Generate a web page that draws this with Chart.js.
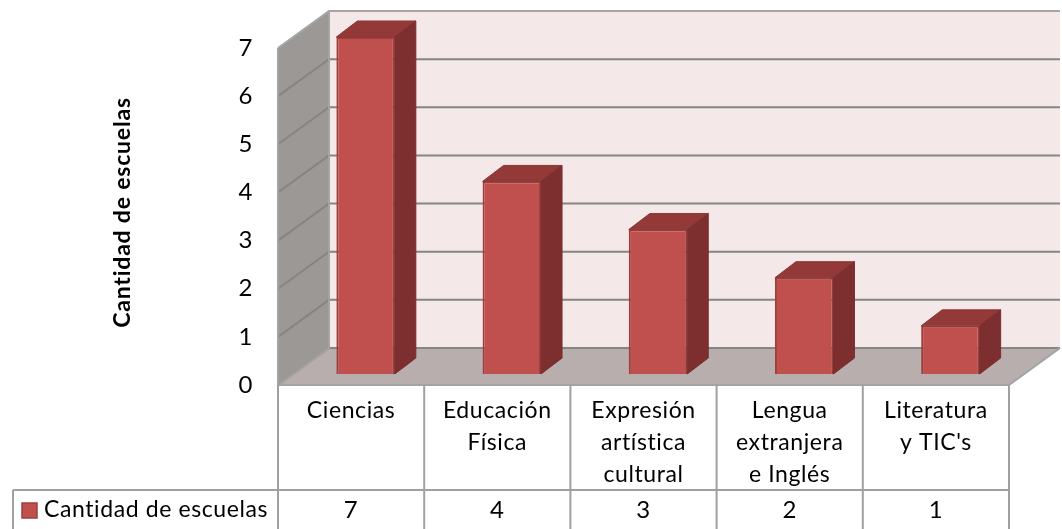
<!DOCTYPE html>
<html>
<head>
<meta charset="utf-8">
<script src="https://cdn.jsdelivr.net/npm/chart.js@4"></script>
<style>
  html, body { margin: 0; padding: 0; background: #fff; }
  #wrap { width: 1062px; height: 529px; overflow: hidden; }
</style>
</head>
<body>
<div id="wrap"><canvas id="chart" width="1062" height="529"></canvas></div>
<script>
const seriesName = 'Cantidad de escuelas';
const categories = [
    ['Ciencias'],
    ['Educación', 'Física'],
    ['Expresión', 'artística', 'cultural'],
    ['Lengua', 'extranjera', 'e Inglés'],
    ['Literatura', "y TIC's"]
];
const values = [7, 4, 3, 2, 1];

const FONT = 'Lato';
const wallDepth = { x: 51, y: -37 };   // back wall offset from front plane
const barShift = { x: 14.5, y: -11 };  // bars stand inside the floor
const barDepth = { x: 21, y: -16 };

function poly(ctx, pts, fill, stroke, lw) {
    ctx.beginPath();
    pts.forEach((p, i) => i ? ctx.lineTo(p[0], p[1]) : ctx.moveTo(p[0], p[1]));
    ctx.closePath();
    if (fill) { ctx.fillStyle = fill; ctx.fill(); }
    if (stroke) { ctx.strokeStyle = stroke; ctx.lineWidth = lw || 1; ctx.stroke(); }
}

// ─── Walls, floor and grid ────────────────────────────
const wallsPlugin = {
    id: 'walls',
    beforeDraw(chart) {
        // the reference text runs wider than Lato, so open it up a little
        chart.ctx.letterSpacing = '0.6px';
    },
    beforeDatasetsDraw(chart) {
        const { ctx, chartArea: a, scales: { y } } = chart;
        const dx = wallDepth.x, dy = wallDepth.y;
        ctx.save();
        poly(ctx, [[a.left + dx, a.top + dy], [a.right + dx, a.top + dy], [a.right + dx, a.bottom + dy], [a.left + dx, a.bottom + dy]], '#f4e8e8');
        poly(ctx, [[a.left, a.top], [a.left + dx, a.top + dy], [a.left + dx, a.bottom + dy], [a.left, a.bottom]], '#9c9896');
        poly(ctx, [[a.left, a.bottom], [a.left + dx, a.bottom + dy], [a.right + dx, a.bottom + dy], [a.right, a.bottom]], '#b8aeae');

        y.ticks.forEach(t => {
            const py = y.getPixelForValue(t.value);
            ctx.beginPath();
            ctx.moveTo(a.left, py);
            ctx.lineTo(a.left + dx, py + dy);
            ctx.lineTo(a.right + dx, py + dy);
            ctx.strokeStyle = t.value === 7 ? '#a6a6a6' : '#858585';
            ctx.lineWidth = 2;
            ctx.stroke();
        });
        // wall edges
        ctx.strokeStyle = '#a3a3a3';
        ctx.lineWidth = 2;
        ctx.beginPath();
        ctx.moveTo(a.left, a.bottom);
        ctx.lineTo(a.left, a.top);
        ctx.moveTo(a.left + dx, a.top + dy);
        ctx.lineTo(a.left + dx, a.bottom + dy);
        ctx.lineTo(a.left, a.bottom);
        ctx.moveTo(a.left, a.bottom);
        ctx.lineTo(a.right, a.bottom);
        ctx.lineTo(a.right + dx, a.bottom + dy);
        ctx.stroke();
        ctx.restore();

        // bars are drawn shifted back from the front plane
        ctx.save();
        ctx.translate(barShift.x, barShift.y);
    },
    afterDatasetsDraw(chart) {
        const { ctx } = chart;
        const dx = barDepth.x, dy = barDepth.y;
        chart.getDatasetMeta(0).data.forEach(bar => {
            const { x, y, base, width } = bar.getProps(['x', 'y', 'base', 'width'], true);
            const l = x - width / 2, r = x + width / 2;
            poly(ctx, [[l, y], [l + dx, y + dy], [r + dx, y + dy], [r, y]], '#933938', '#8a3634', 1);
            poly(ctx, [[r, y], [r + dx, y + dy], [r + dx, base + dy], [r, base]], '#7c2f2e', '#7a2e2d', 1);
        });
        ctx.restore();
    }
};

// ─── Data table under the axis ────────────────────────
const dataTablePlugin = {
    id: 'dataTable',
    afterDraw(chart) {
        const { ctx, chartArea: a, scales: { x } } = chart;
        const colW = (a.right - a.left) / categories.length;
        const rowY = 490, keyLeft = 13;
        ctx.save();
        ctx.strokeStyle = '#a0a0a0';
        ctx.lineWidth = 2;
        ctx.beginPath();
        for (let i = 0; i <= categories.length; i++) {
            const px = a.left + colW * i;
            ctx.moveTo(px, a.bottom);
            ctx.lineTo(px, 529);
        }
        ctx.moveTo(keyLeft, rowY);
        ctx.lineTo(a.right, rowY);
        ctx.moveTo(keyLeft, rowY);
        ctx.lineTo(keyLeft, 529);
        ctx.stroke();

        poly(ctx, [[22, 503], [37, 503], [37, 518], [22, 518]], '#c0504d', '#9c3f3c', 1.5);

        ctx.fillStyle = '#000';
        ctx.font = '23px ' + FONT;
        ctx.textBaseline = 'middle';
        ctx.textAlign = 'left';
        ctx.fillText(seriesName, 44, 510);
        ctx.textAlign = 'center';
        ctx.font = '24px ' + FONT;
        values.forEach((v, i) => ctx.fillText(String(v), x.getPixelForTick(i), 510));

        // axis title, sits a bit above the plot centre
        ctx.translate(123, 212.5);
        ctx.rotate(-Math.PI / 2);
        ctx.letterSpacing = '0.8px';
        ctx.font = 'bold 23px ' + FONT;
        ctx.fillText(seriesName, 0, 0);
        ctx.restore();
        ctx.letterSpacing = '0px';
    }
};

new Chart(document.getElementById('chart'), {
    type: 'bar',
    data: {
        labels: categories,
        datasets: [{
            label: seriesName,
            data: values,
            backgroundColor: '#c0504d',
            borderColor: '#9e3e3c',
            borderWidth: 2,
            categoryPercentage: 1,
            barPercentage: 0.4,
            clip: false
        }]
    },
    options: {
        responsive: false,
        animation: false,
        layout: { padding: { top: 48, right: 53, left: 0, bottom: 0 } },
        plugins: { legend: { display: false }, tooltip: { enabled: false } },
        scales: {
            x: {
                grid: { display: false, drawTicks: false },
                border: { display: false },
                afterFit(scale) { scale.height = 144; },
                ticks: {
                    autoSkip: false,
                    maxRotation: 0,
                    padding: 10,
                    color: '#000',
                    font: { family: FONT, size: 23, lineHeight: 1.39 }
                }
            },
            y: {
                min: 0,
                max: 7,
                grid: { display: false, drawTicks: false },
                border: { display: false },
                afterFit(scale) { scale.width = 278; },
                ticks: {
                    stepSize: 1,
                    padding: 25,
                    color: '#000',
                    font: { family: FONT, size: 24 }
                }
            }
        }
    },
    plugins: [wallsPlugin, dataTablePlugin]
});
</script>
</body>
</html>
